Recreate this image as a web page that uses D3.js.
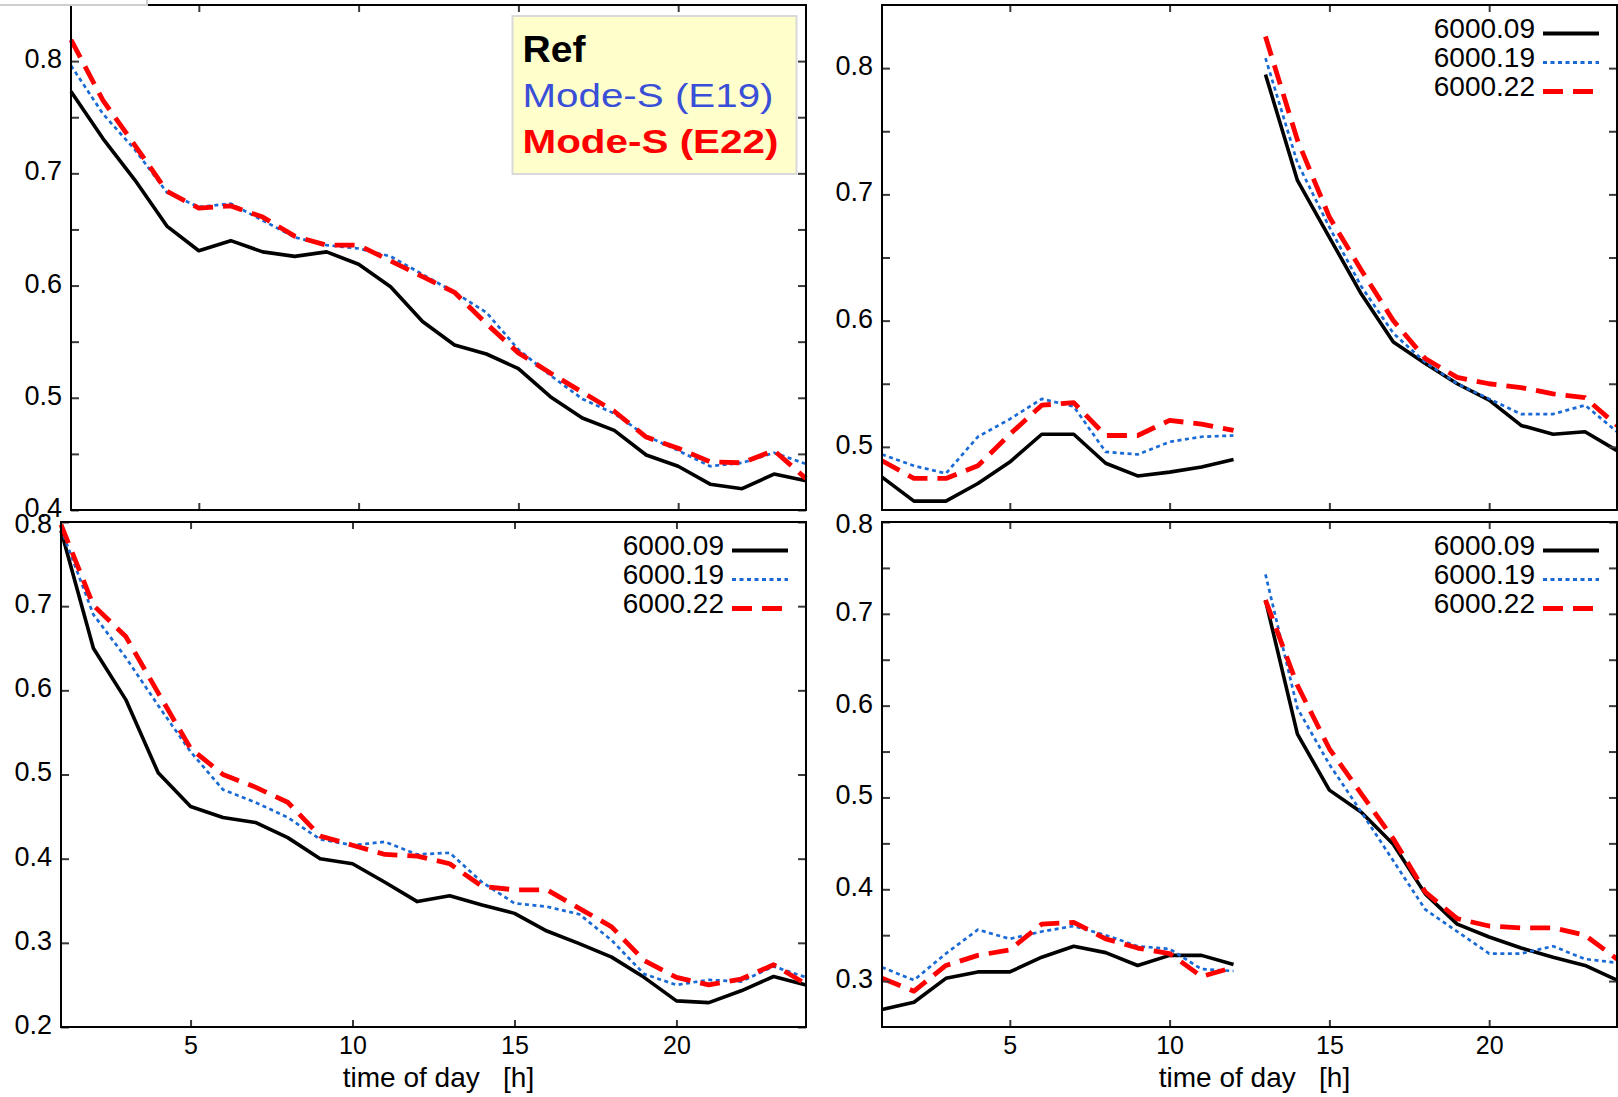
<!DOCTYPE html>
<html><head><meta charset="utf-8">
<script src="https://cdn.jsdelivr.net/npm/d3@7"></script>
<style>
body{margin:0;background:#fff}
svg{display:block}
text{font-family:"Liberation Sans",Arial,Helvetica,sans-serif}
</style>
</head><body>
<svg id="c" width="1618" height="1097"></svg>
<script>
// ---------------- data ----------------
const hours = [1,2,3,4,5,6,7,8,9,10,11,12,13,14,15,16,17,18,19,20,21,22,23,24];
const xTicks = [5,10,15,20];
const xTitle = "time of day   [h]";

// top-left: reference vs Mode-S
const tlRef = [0.773,0.731,0.694,0.653,0.631,0.640,0.630,0.626,0.630,0.619,0.599,0.568,0.547,0.539,0.526,0.501,0.482,0.471,0.449,0.439,0.423,0.419,0.432,0.426];
const tlE19 = [0.796,0.753,0.721,0.683,0.670,0.673,0.658,0.643,0.636,0.633,0.626,0.610,0.594,0.576,0.543,0.520,0.499,0.486,0.466,0.453,0.439,0.442,0.451,0.441];
const tlE22 = [0.819,0.765,0.725,0.684,0.669,0.671,0.661,0.644,0.636,0.636,0.622,0.608,0.594,0.566,0.540,0.522,0.505,0.488,0.465,0.455,0.443,0.442,0.453,0.428];
const tlLegend = ["Ref","Mode-S (E19)","Mode-S (E22)"];

// top-right (two runs: hours 1-12 and 13-24)
const trS09 = [0.476,0.457,0.457,0.471,0.488,0.510,0.510,0.487,0.477,0.480,0.484,0.490, 0.795,0.711,0.666,0.621,0.583,0.566,0.550,0.537,0.517,0.510,0.512,0.497];
const trS19 = [0.494,0.485,0.479,0.508,0.522,0.538,0.532,0.496,0.494,0.504,0.508,0.509, 0.808,0.725,0.674,0.627,0.590,0.567,0.550,0.538,0.526,0.526,0.533,0.512];
const trS22 = [0.489,0.475,0.475,0.485,0.510,0.533,0.535,0.509,0.509,0.521,0.518,0.513, 0.825,0.743,0.682,0.640,0.600,0.570,0.555,0.550,0.547,0.542,0.539,0.517];

// bottom-left
const blS09 = [0.790,0.650,0.589,0.502,0.462,0.449,0.443,0.425,0.400,0.394,0.372,0.349,0.356,0.345,0.335,0.314,0.299,0.283,0.259,0.231,0.229,0.243,0.260,0.250];
const blS19 = [0.792,0.690,0.639,0.582,0.527,0.482,0.467,0.449,0.423,0.416,0.420,0.405,0.407,0.372,0.347,0.343,0.334,0.303,0.263,0.250,0.256,0.254,0.272,0.259];
const blS22 = [0.797,0.701,0.664,0.597,0.531,0.500,0.485,0.467,0.427,0.416,0.405,0.403,0.394,0.367,0.363,0.363,0.341,0.319,0.279,0.259,0.250,0.257,0.274,0.251];

// bottom-right (two runs)
const brS09 = [0.269,0.277,0.303,0.310,0.310,0.326,0.338,0.331,0.317,0.328,0.328,0.318, 0.715,0.569,0.508,0.484,0.449,0.395,0.362,0.348,0.336,0.326,0.317,0.301];
const brS19 = [0.315,0.301,0.330,0.356,0.346,0.354,0.360,0.350,0.338,0.335,0.313,0.311, 0.743,0.597,0.536,0.484,0.431,0.378,0.354,0.330,0.330,0.338,0.324,0.320];
const brS22 = [0.303,0.289,0.317,0.328,0.334,0.362,0.364,0.346,0.336,0.330,0.305,0.315, 0.715,0.622,0.553,0.504,0.455,0.397,0.368,0.360,0.358,0.358,0.350,0.324];

const runLabels = ["6000.09","6000.19","6000.22"];
const runBreakHour = 12;

const tlYMajor = [0.4,0.5,0.6,0.7,0.8], tlYMinor = [0.45,0.55,0.65,0.75];
const trYMajor = [0.5,0.6,0.7,0.8],     trYMinor = [0.55,0.65,0.75];
const blYMajor = [0.2,0.3,0.4,0.5,0.6,0.7,0.8], blYMinor = [];
const brYMajor = [0.3,0.4,0.5,0.6,0.7,0.8], brYMinor = [0.35,0.45,0.55,0.65,0.75];

// ---------------- drawing ----------------
const svg = d3.select("#c");
svg.append("rect").attr("width",1618).attr("height",1097).attr("fill","#fff");

const styles = [
  {color:"#000000", width:3.6, dash:null},
  {color:"#1a6ad6", width:2.7, dash:"4,3.5"},
  {color:"#ff0000", width:4.8, dash:"20,10"}
];

const panels = [
  {x0:71,  x1:806,  y0:5,   y1:510,  yDom:[0.4,0.85], yMaj:tlYMajor, yMin:tlYMinor, series:[tlRef,tlE19,tlE22], split:false, xLab:false, key:false},
  {x0:882, x1:1617, y0:5,   y1:510,  yDom:[0.45,0.85], yMaj:trYMajor, yMin:trYMinor, series:[trS09,trS19,trS22], split:true,  xLab:false, key:true},
  {x0:61,  x1:806,  y0:522, y1:1027, yDom:[0.2,0.8],   yMaj:blYMajor, yMin:blYMinor, series:[blS09,blS19,blS22], split:false, xLab:true,  key:true},
  {x0:882, x1:1617, y0:522, y1:1027, yDom:[0.25,0.8],  yMaj:brYMajor, yMin:brYMinor, series:[brS09,brS19,brS22], split:true,  xLab:true,  key:true}
];

const fmt = d3.format(".1f");

panels.forEach(p => {
  const g = svg.append("g");
  const x = d3.scaleLinear().domain([1,24]).range([p.x0,p.x1]);
  const y = d3.scaleLinear().domain(p.yDom).range([p.y1,p.y0]);

  // series lines
  p.series.forEach((vals,i) => {
    const pts = hours.map((h,k)=>[h, vals[k]]);
    const runs = p.split ? [pts.filter(d=>d[0]<=runBreakHour), pts.filter(d=>d[0]>runBreakHour)] : [pts];
    const line = d3.line().x(d=>x(d[0])).y(d=>y(d[1]));
    runs.forEach(r => {
      g.append("path").attr("d", line(r))
        .attr("fill","none").attr("stroke",styles[i].color)
        .attr("stroke-width",styles[i].width)
        .attr("stroke-dasharray",styles[i].dash)
        .attr("stroke-linejoin","round");
    });
  });

  // axes (ticks inward on all sides)
  const tickStyle = sel => {
    sel.select(".domain").remove();
    sel.selectAll(".tick line").attr("stroke","#3a3a3a").attr("stroke-width",2);
  };
  const left = g.append("g").attr("transform",`translate(${p.x0},0)`)
    .call(d3.axisLeft(y).tickValues(p.yMaj).tickSize(-8).tickPadding(9).tickFormat(fmt));
  tickStyle(left);
  left.selectAll(".tick text").attr("font-size",27).attr("fill","#000")
    .attr("dy", d => (y(d) - p.y0 < 1 && p.y0 > 100) ? "0.40em" : "0.24em")
    .style("font-family","'Liberation Sans',Arial,sans-serif");
  if (p.yMin.length) {
    tickStyle(g.append("g").attr("transform",`translate(${p.x0},0)`)
      .call(d3.axisLeft(y).tickValues(p.yMin).tickSize(-8).tickFormat("")));
    tickStyle(g.append("g").attr("transform",`translate(${p.x1},0)`)
      .call(d3.axisRight(y).tickValues(p.yMin).tickSize(-8).tickFormat("")));
  }
  tickStyle(g.append("g").attr("transform",`translate(${p.x1},0)`)
    .call(d3.axisRight(y).tickValues(p.yMaj).tickSize(-8).tickFormat("")));
  tickStyle(g.append("g").attr("transform",`translate(0,${p.y0})`)
    .call(d3.axisTop(x).tickValues(xTicks).tickSize(-7).tickFormat("")));
  const bottom = g.append("g").attr("transform",`translate(0,${p.y1})`)
    .call(d3.axisBottom(x).tickValues(xTicks).tickSize(-7).tickPadding(9.5).tickFormat(p.xLab ? d3.format("d") : ""));
  tickStyle(bottom);
  bottom.selectAll(".tick text").attr("font-size",25).attr("fill","#000")
    .style("font-family","'Liberation Sans',Arial,sans-serif");

  // frame
  g.append("rect").attr("x",p.x0).attr("y",p.y0).attr("width",p.x1-p.x0).attr("height",p.y1-p.y0)
    .attr("fill","none").attr("stroke","#000").attr("stroke-width",2);

  // x title
  if (p.xLab) {
    g.append("text").attr("x",(p.x0+p.x1)/2+5).attr("y",p.y1+60)
      .attr("text-anchor","middle").attr("font-size",28).style("white-space","pre")
      .text(xTitle);
  }

  // key
  if (p.key) {
    runLabels.forEach((lab,i) => {
      const by = p.y0 + 33 + i*29;
      g.append("text").attr("x",p.x1-82).attr("y",by).attr("text-anchor","end")
        .attr("font-size",28).attr("fill","#000").text(lab);
      g.append("line").attr("x1",p.x1-74).attr("x2",p.x1-18)
        .attr("y1",by-4.5).attr("y2",by-4.5)
        .attr("stroke",styles[i].color).attr("stroke-width",styles[i].width+0.4)
        .attr("stroke-dasharray",styles[i].dash);
    });
  }
});

// top-left boxed legend
const lg = svg.append("g");
lg.append("rect").attr("x",512.5).attr("y",16).attr("width",284).attr("height",158)
  .attr("fill","#ffffcc").attr("stroke","#d9d9d9").attr("stroke-width",2);
const legendStyles = [
  {color:"#000000", weight:"bold",   size:36, base:61.7,  len:63},
  {color:"#3a4fd8", weight:"normal", size:34, base:106.7, len:251},
  {color:"#ff0000", weight:"bold",   size:34, base:153.3, len:256}
];
tlLegend.forEach((t,i) => {
  const s = legendStyles[i];
  lg.append("text").attr("x",522.5).attr("y",s.base)
    .attr("font-size",s.size).attr("font-weight",s.weight).attr("fill",s.color)
    .attr("textLength",s.len).attr("lengthAdjust","spacingAndGlyphs")
    .text(t);
});

// light grey artefact line at the top-left corner
svg.append("path").attr("d","M0,5 H147 V0").attr("fill","none")
  .attr("stroke","#cfcfcf").attr("stroke-width",2);
</script>
</body></html>
